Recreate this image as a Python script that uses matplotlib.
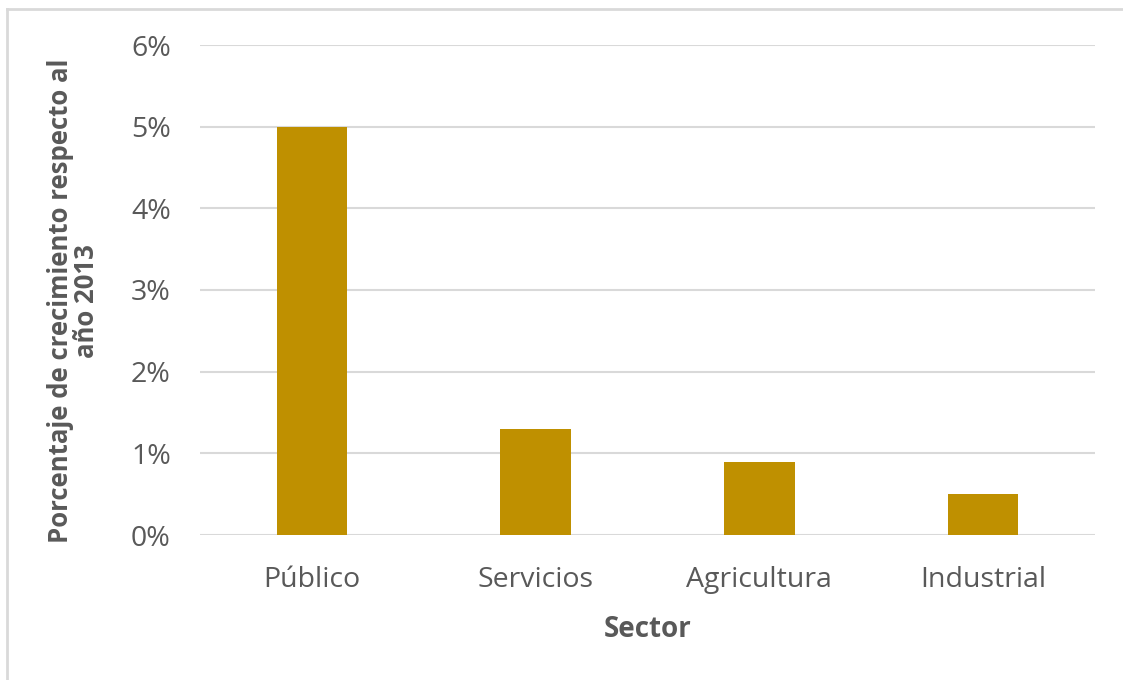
import matplotlib
matplotlib.use("Agg")
import matplotlib.pyplot as plt
from matplotlib.lines import Line2D
from matplotlib.ticker import FuncFormatter

sectores = ["Público", "Servicios", "Agricultura", "Industrial"]
crecimiento = [5.0, 1.3, 0.9, 0.5]
yticks = [0, 1, 2, 3, 4, 5, 6]

plt.rcParams['font.family'] = ['Open Sans', 'DejaVu Sans']
gris = '#595959'

fig = plt.figure(figsize=(11.23, 6.8), dpi=100)
ax = fig.add_axes([200/1123, 1-535/680, 895/1123, 490/680])

x = range(len(sectores))
ax.bar(x, crecimiento, width=0.315, color='#BF9000', zorder=3)

ax.set_xlim(-0.5, len(sectores)-0.5)
ax.set_ylim(0, 6)
ax.set_yticks(yticks)
ax.yaxis.set_major_formatter(FuncFormatter(lambda v, p: '%d%%' % v))
ax.set_xticks(list(x))
ax.set_xticklabels(sectores)
ax.grid(axis='y', color='#D9D9D9', linewidth=1.5, zorder=0)
for s in ax.spines.values():
    s.set_visible(False)
ax.tick_params(length=0, labelsize=20.5, colors=gris)
ax.tick_params(axis='y', pad=21)
ax.tick_params(axis='x', pad=22.5)

ax.set_xlabel('Sector', fontsize=20, fontweight='bold', color=gris, labelpad=15)
ax.set_ylabel('Porcentaje de crecimiento respecto al\naño 2013', fontsize=18.5,
              fontweight='bold', color=gris, linespacing=0.95)
ax.yaxis.set_label_coords(-0.112, 0.478)

# marco gris del gráfico
fig.add_artist(Line2D([7/1123, 7/1123], [0, 1-9/680], transform=fig.transFigure,
                      color='#D9D9D9', linewidth=2))
fig.add_artist(Line2D([7/1123, 1], [1-9/680, 1-9/680], transform=fig.transFigure,
                      color='#D9D9D9', linewidth=2))

fig.savefig('out.png', dpi=100, facecolor='white')
